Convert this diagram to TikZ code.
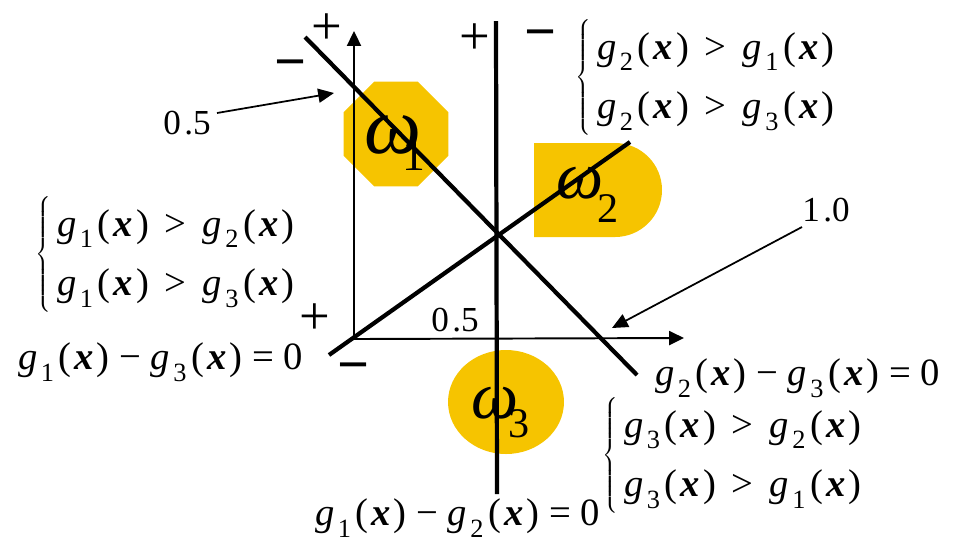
\documentclass[tikz,border=0pt]{standalone}
\usepackage{fontspec}
\setmainfont{Liberation Serif}
\usetikzlibrary{shapes.geometric,arrows.meta}
\definecolor{gold}{RGB}{246,196,0}
\newcommand{\gf}[1]{\textit{g}\kern0.08em\raisebox{-0.3em}{\fontsize{15}{15}\selectfont #1}\kern0.12em(\kern0.08em\textbf{\textit{x}}\kern0.08em)}
\newcommand{\sysb}[2]{$\left\{\renewcommand\arraystretch{1.3}\begin{tabular}{@{\,}l@{}}#1\\#2\end{tabular}\right.$}
\begin{document}
\begin{tikzpicture}[x=0.02cm,y=-0.02cm,
  lbl/.style={font=\fontsize{22}{26}\selectfont, inner sep=0pt, anchor=west},
  num/.style={font=\fontsize{20}{24}\selectfont, inner sep=0pt},
  plus/.style={font=\fontsize{31}{31}\selectfont, inner sep=0pt},
  minus/.style={font=\fontsize{32}{32}\selectfont\bfseries, inner sep=0pt},
  omg/.style={inner sep=0pt, anchor=base west},
  sub/.style={inner sep=0pt, anchor=base west},
  dline/.style={line width=2.4pt},
  axis/.style={line width=1.1pt,-{Triangle[length=8.5pt,width=8pt]}},
  ann/.style={line width=1pt,-{Triangle[length=9pt,width=8pt]}},
  region/.style={fill=gold, draw=none, inner sep=0pt}]
\useasboundingbox (0,0) rectangle (956,539);

% regions
\node[region, regular polygon, regular polygon sides=8, minimum size=2.27cm] (r1) at (396,134) {};
\fill[gold] (534,143) -- (615,143) arc[start angle=-90, end angle=90, radius=47] -- (534,237) -- cycle;
\node[region, ellipse, minimum width=2.32cm, minimum height=2.08cm] (r3) at (506,402) {};

% omega labels
\node[omg, font=\fontsize{46}{46}\selectfont\itshape] (w1) at (364,153) {ω};
\node[sub, font=\fontsize{26}{26}\selectfont] (s1) at (402,170) {1};
\node[omg, font=\fontsize{38}{38}\selectfont\itshape] (w2) at (556,198) {ω};
\node[sub, font=\fontsize{24}{24}\selectfont] (s2) at (597,222) {2};
\node[omg, font=\fontsize{38}{38}\selectfont\itshape] (w3) at (471,418) {ω};
\node[sub, font=\fontsize{24}{24}\selectfont] (s3) at (508,437) {3};

% axes
\coordinate (o) at (354,339);
\coordinate (ytip) at (354,31);
\coordinate (xtip) at (684,338);
\draw[axis] (o) -- (ytip);
\draw[axis] (o) -- (xtip);

% decision lines
\coordinate (d1) at (305,37);
\coordinate (d2) at (637,375);
\coordinate (a1) at (329,355);
\coordinate (a2) at (630,142);
\coordinate (v1) at (496,21);
\coordinate (v2) at (497,494);
\draw[dline] (d1) -- (d2);
\draw[dline] (a1) -- (a2);
\draw[dline] (v1) -- (v2);

% signs
\node[plus] (p1) at (327,29) {+};
\node[minus] (m1) at (291,70) {−};
\node[plus] (p2) at (475,39) {+};
\node[minus] (m2) at (541,40) {−};
\node[plus] (p3) at (315,319) {+};
\node[minus] (m3) at (354,373) {−};

% value labels and arrows
\node[num] (h1) at (187,123) {0\kern0.1em.5};
\coordinate (h1t) at (334,93);
\draw[ann] (217,113) -- (h1t);
\node[num] (h2) at (826,210) {1\kern0.1em.0};
\coordinate (h2t) at (612,328);
\draw[ann] (802,227) -- (h2t);
\node[num] (h3) at (455,320) {0\kern0.1em.5};

% inequality systems
\node[lbl] (q2) at (575,77) {\sysb{\gf{2} \,>\, \gf{1}}{\gf{2} \,>\, \gf{3}}};
\node[lbl] (q1) at (35,254) {\sysb{\gf{1} \,>\, \gf{2}}{\gf{1} \,>\, \gf{3}}};
\node[lbl] (q3) at (602,455) {\sysb{\gf{3} \,>\, \gf{2}}{\gf{3} \,>\, \gf{1}}};

% boundary equations
\node[lbl] (e13) at (18,362) {\gf{1} − \gf{3} = 0};
\node[lbl] (e23) at (655,378) {\gf{2} − \gf{3} = 0};
\node[lbl] (e12) at (315,518) {\gf{1} − \gf{2} = 0};
\end{tikzpicture}
\end{document}
